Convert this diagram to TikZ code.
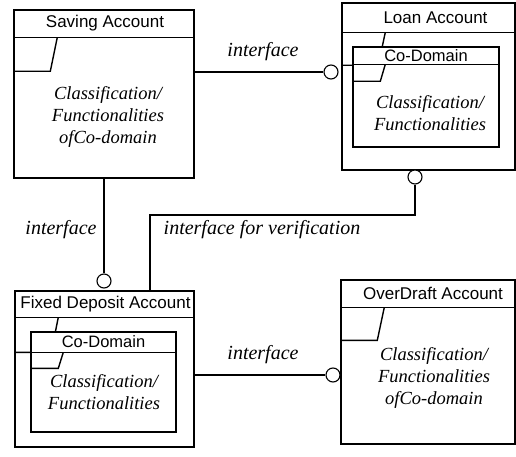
\documentclass[tikz,border=0pt]{standalone}
\usepackage{fontspec}
\setmainfont{Liberation Serif}
\setsansfont{Liberation Sans}
\newcommand\accfont{\sffamily\fontsize{17}{20}\selectfont}
\newcommand\domfont{\sffamily\fontsize{16.5}{20}\selectfont}
\newcommand\bodytext{\rmfamily\itshape\fontsize{18.5}{22}\selectfont}
\newcommand\ifacefont{\rmfamily\itshape\fontsize{20}{24}\selectfont}
\def\tabw{37}
\def\itabw{28}

\begin{document}
\begin{tikzpicture}[x=1pt,y=-1pt,line width=1.1pt]
  \tikzstyle{account}=[draw,rectangle,line width=1.4pt,inner sep=0pt,fill=white]
  \tikzstyle{acc title}=[font=\accfont,inner sep=0pt]
  \tikzstyle{acc body}=[font=\bodytext,align=center,inner sep=0pt]
  \tikzstyle{lollipop}=[draw,circle,fill=white,minimum size=14pt,inner sep=0pt]
  \tikzstyle{annot}=[font=\ifacefont,inner sep=0pt]

  \useasboundingbox (0,0) rectangle (516,457);

  % Draw the account boxes
  \node[account,minimum width=180pt,minimum height=168pt] (SA) at (104,94) {};
  \node[account,minimum width=173pt,minimum height=167pt] (LA) at (428.5,86.5) {};
  \node[account,minimum width=179pt,minimum height=156pt] (FD) at (104.5,369) {};
  \node[account,minimum width=174pt,minimum height=164pt] (OD) at (428,362) {};

  % Title bars, tabs and names of the accounts
  \foreach \acc/\ttl/\tab/\dx/\name in {SA/28/62/1/Saving Account, LA/30/63/7/Loan Account,
                                        FD/27/62/1/Fixed Deposit Account, OD/28/61/5/OverDraft Account} {
    \draw[line width=1.4pt] ([yshift=-\ttl*1pt]\acc.north west) -- ([yshift=-\ttl*1pt]\acc.north east);
    \draw[line width=1.4pt] ([yshift=-\tab*1pt]\acc.north west) -- ++(\tabw,0)
      -- ([xshift=\tabw*1pt+7pt,yshift=-\ttl*1pt]\acc.north west);
    \node[acc title] (\acc-title) at ([xshift=\dx*1pt,yshift=-\ttl*0.5pt]\acc.north) {\name};
  }

  % Draw the co-domain boxes inside the accounts
  \node[account,minimum width=146pt,minimum height=100pt] (LA-dom) at (426,97) {};
  \node[account,minimum width=145pt,minimum height=100pt] (FD-dom) at (103.5,382) {};
  \foreach \dom/\ttl/\tab in {LA-dom/18/35, FD-dom/21/37} {
    \draw[line width=1.4pt] ([yshift=-\ttl*1pt]\dom.north west) -- ([yshift=-\ttl*1pt]\dom.north east);
    \draw[line width=1.4pt] ([yshift=-\tab*1pt]\dom.north west) -- ++(\itabw,0)
      -- ([xshift=\itabw*1pt+5pt,yshift=-\ttl*1pt]\dom.north west);
    \node[acc title,font=\domfont] (\dom-title) at ([yshift=-\ttl*0.5pt]\dom.north) {Co-Domain};
  }

  % Texts of the boxes
  \node[acc body] (SA-body) at (108,117) {Classification/\\Functionalities\\ofCo-domain};
  \node[acc body] (OD-body) at (434,378) {Classification/\\Functionalities\\ofCo-domain};
  \node[acc body] (LA-body) at (430,113) {Classification/\\Functionalities};
  \node[acc body] (FD-body) at (104,392) {Classification/\\Functionalities};

  % Interfaces between the accounts
  \node[lollipop] (I-LA) at (331,72) {};
  \node[lollipop] (I-FD) at (104,281) {};
  \node[lollipop] (I-ver) at (415,177) {};
  \node[lollipop] (I-OD) at (333,375) {};
  \coordinate (ver) at (150,215);

  \draw (SA.east |- I-LA) -- (I-LA);
  \draw (SA.south) -- (I-FD);
  \draw (I-ver) |- (ver) -- (ver |- FD.north);
  \draw (FD.east |- I-OD) -- (I-OD);

  % Annotate the interfaces
  \node[annot] (l-LA) at (263,52) {interface};
  \node[annot] (l-FD) at (61,230) {interface};
  \node[annot] (l-ver) at (262,230) {interface for verification};
  \node[annot] (l-OD) at (263,355) {interface};
\end{tikzpicture}
\end{document}
